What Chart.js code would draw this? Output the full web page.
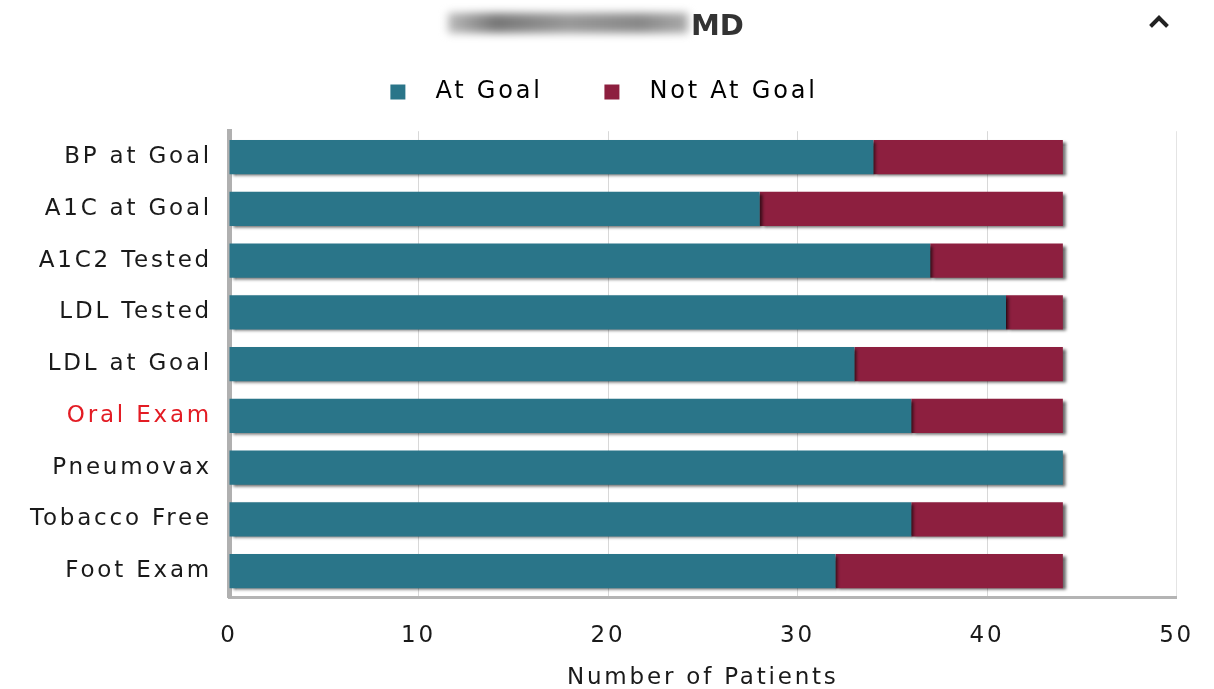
<!DOCTYPE html>
<html>
<head>
<meta charset="utf-8">
<script src="https://cdn.jsdelivr.net/npm/chart.js@4/dist/chart.umd.min.js"></script>
<style>
  html, body { margin: 0; padding: 0; background: #fff; }
  #wrap { position: relative; width: 1214px; height: 689px; }
  #chart { position: absolute; left: 0; top: 0; }
  .redacted {
    position: absolute; left: 448px; top: 13px; width: 240px; height: 20px;
    background: linear-gradient(90deg, #bbb, #777 20%, #999 50%, #888 80%, #aaa);
    filter: blur(4px);
  }
  .md {
    position: absolute; left: 691px; top: 8px; line-height: 29px;
    font: bold 29px "DejaVu Sans", sans-serif; color: #333;
  }
  .caret {
    position: absolute; left: 1152px; top: 18px; width: 10px; height: 10px;
    border-left: 4px solid #222; border-top: 4px solid #222;
    transform: rotate(45deg);
  }
</style>
</head>
<body>
<div id="wrap">
  <canvas id="chart" width="1214" height="689"></canvas>
  <div class="redacted"></div>
  <div class="md">MD</div>
  <div class="caret"></div>
</div>
<script>
const measures = ['BP at Goal', 'A1C at Goal', 'A1C2 Tested', 'LDL Tested', 'LDL at Goal',
  'Oral Exam', 'Pneumovax', 'Tobacco Free', 'Foot Exam'];
const atGoal = [34, 28, 37, 41, 33, 36, 44, 36, 32];
const notAtGoal = [10, 16, 7, 3, 11, 8, 0, 8, 12];
const xTicks = [0, 10, 20, 30, 40, 50];
const highlighted = 'Oral Exam';

const TEAL = '#2a7589';
const WINE = '#8d1f3f';
const FONT = { family: 'DejaVu Sans', size: 23 };

// letter spacing has to be put back after every canvas resize
const spacingPlugin = {
  id: 'spacing',
  beforeUpdate(chart) { chart.ctx.letterSpacing = '2.8px'; },
  beforeDraw(chart) { chart.ctx.letterSpacing = '2.8px'; }
};

const shadowPlugin = {
  id: 'barShadow',
  beforeDatasetsDraw(chart) {
    const ctx = chart.ctx;
    ctx.save();
    ctx.shadowColor = 'rgba(0,0,0,0.6)';
    ctx.shadowBlur = 3;
    ctx.shadowOffsetX = 3;
    ctx.shadowOffsetY = 2;
  },
  afterDatasetsDraw(chart) {
    chart.ctx.restore();
  }
};

const ctx = document.getElementById('chart').getContext('2d');
new Chart(ctx, {
  type: 'bar',
  data: {
    labels: measures,
    datasets: [
      { label: 'At Goal', data: atGoal, backgroundColor: TEAL },
      { label: 'Not At Goal', data: notAtGoal, backgroundColor: WINE }
    ]
  },
  options: {
    indexAxis: 'y',
    responsive: false,
    animation: false,
    // right padding stays below the "50" label overhang, so it only moves the legend
    layout: { padding: { top: 60, right: 30, left: 24, bottom: 0 } },
    datasets: { bar: { barPercentage: 0.66, categoryPercentage: 1 } },
    plugins: {
      tooltip: { enabled: false },
      legend: {
        position: 'top',
        labels: {
          boxWidth: 15,
          boxHeight: 15,
          padding: 20,
          color: '#222',
          font: { family: 'DejaVu Sans', size: 24 },
          generateLabels(chart) {
            return chart.data.datasets.map((ds, i) => ({
              text: ' \u2009' + ds.label + (i === 0 ? '    ' : ''),
              fillStyle: ds.backgroundColor,
              strokeStyle: ds.backgroundColor,
              lineWidth: 0,
              datasetIndex: i,
              hidden: false
            }));
          }
        }
      },
      // empty spacer between legend and plot
      subtitle: {
        display: true,
        text: '',
        weight: 500,
        font: { size: 1 },
        padding: { top: 0, bottom: 16 }
      }
    },
    scales: {
      x: {
        stacked: true,
        min: 0,
        max: 50,
        afterBuildTicks(scale) {
          scale.ticks = xTicks.map(v => ({ value: v }));
        },
        ticks: {
          padding: 20,
          color: '#1a1a1a',
          font: FONT
        },
        grid: {
          color: ctx => ctx.tick && ctx.tick.value === 50 ? '#e4e4e4' : '#d8d8d8',
          drawTicks: true,
          tickLength: 5,
          tickColor: 'rgba(0,0,0,0)'
        },
        border: { color: '#b4b4b4', width: 3 },
        title: {
          display: true,
          text: 'Number of Patients',
          color: '#1a1a1a',
          padding: { top: 0, bottom: -3 },
          font: FONT
        },
        afterFit(scale) { scale.height = 92; }
      },
      y: {
        stacked: true,
        grid: { display: false, drawTicks: false },
        border: { color: '#b0b0b0', width: 5 },
        ticks: {
          padding: 17,
          color: c => measures[c.index] === highlighted ? '#e31c24' : '#1a1a1a',
          font: FONT
        },
        afterFit(scale) { scale.width = 205; }
      }
    }
  },
  plugins: [spacingPlugin, shadowPlugin]
});
</script>
</body>
</html>
